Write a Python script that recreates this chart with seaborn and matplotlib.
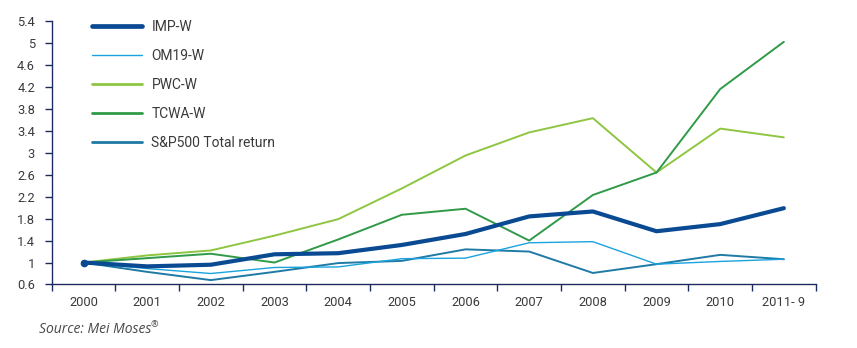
import matplotlib
matplotlib.use("Agg")
import matplotlib.pyplot as plt
import numpy as np
import pandas as pd
import seaborn as sns
from matplotlib.ticker import FixedLocator

years = ["2000", "2001", "2002", "2003", "2004", "2005", "2006",
         "2007", "2008", "2009", "2010", "2011- 9"]

imp_w = [1.00, 0.93, 0.96, 1.15, 1.17, 1.32, 1.52, 1.84, 1.93, 1.57, 1.70, 1.99]
om19_w = [1.00, 0.89, 0.80, 0.91, 0.92, 1.07, 1.08, 1.36, 1.38, 0.97, 1.02, 1.06]
pwc_w = [1.00, 1.13, 1.22, 1.49, 1.79, 2.35, 2.95, 3.37, 3.63, 2.64, 3.44, 3.28]
tcwa_w = [1.00, 1.08, 1.16, 1.00, 1.42, 1.87, 1.98, 1.40, 2.23, 2.64, 4.16, 5.02]
sp500_tr = [1.00, 0.83, 0.68, 0.83, 0.99, 1.03, 1.24, 1.20, 0.81, 0.97, 1.14, 1.06]

series_names = ["IMP-W", "OM19-W", "PWC-W", "TCWA-W", "S&P500 Total return"]
series_values = [imp_w, om19_w, pwc_w, tcwa_w, sp500_tr]
y_ticks = [0.6, 1, 1.4, 1.8, 2.2, 2.6, 3, 3.4, 3.8, 4.2, 4.6, 5, 5.4]

colors = {
    "IMP-W": "#0a4a92",
    "OM19-W": "#1ba3de",
    "PWC-W": "#8ec641",
    "TCWA-W": "#2f9a48",
    "S&P500 Total return": "#1f7aa6",
}
widths = {
    "IMP-W": 3.0,
    "OM19-W": 1.0,
    "PWC-W": 1.4,
    "TCWA-W": 1.4,
    "S&P500 Total return": 1.4,
}
legend_widths = {
    "IMP-W": 3.4,
    "OM19-W": 1.0,
    "PWC-W": 2.0,
    "TCWA-W": 2.0,
    "S&P500 Total return": 2.0,
}

frames = []
for name, vals in zip(series_names, series_values):
    frames.append(pd.DataFrame({"pos": np.arange(len(years)), "value": vals,
                                "series": name}))
df = pd.concat(frames, ignore_index=True)

sns.set_theme(style="white")
plt.rcParams["font.family"] = ["Roboto", "DejaVu Sans"]

fig = plt.figure(figsize=(8.57, 3.48), dpi=100)
ax = fig.add_axes([0.0603, 0.1825, 0.8915, 0.7572])

draw_order = ["PWC-W", "TCWA-W", "S&P500 Total return", "OM19-W", "IMP-W"]
for name in draw_order:
    sub = df[df["series"] == name]
    sns.lineplot(data=sub, x="pos", y="value", ax=ax, color=colors[name],
                 linewidth=widths[name], legend=False, sort=False)

# starting point marker
ax.plot([0], [imp_w[0]], marker="o", markersize=4.5, color=colors["IMP-W"],
        linestyle="none", zorder=6)

ax.set_xlim(-0.5, len(years) - 0.5)
ax.set_ylim(0.6, 5.4)
ax.set_xlabel("")
ax.set_ylabel("")

axis_color = "#1f2b5e"
text_color = "#3a3a3a"

ax.set_xticks(np.arange(len(years)))
ax.set_xticklabels(years)
ax.xaxis.set_minor_locator(FixedLocator(np.arange(-0.5, len(years), 1.0)))
ax.tick_params(axis="x", which="major", length=0, pad=8, labelsize=9.3,
               labelcolor=text_color)
ax.tick_params(axis="x", which="minor", length=5, width=1, color=axis_color,
               direction="out", bottom=True)

ax.set_yticks(y_ticks)
ax.set_yticklabels([f"{t:g}" for t in y_ticks])
ax.tick_params(axis="y", which="major", length=5, width=1, color=axis_color,
               direction="out", left=True, pad=7, labelsize=9.3,
               labelcolor=text_color)

for side in ["top", "right"]:
    ax.spines[side].set_visible(False)
for side in ["left", "bottom"]:
    ax.spines[side].set_color(axis_color)
    ax.spines[side].set_linewidth(1.0)

handles = [plt.Line2D([], [], color=colors[n], linewidth=legend_widths[n])
           for n in series_names]
leg = ax.legend(handles, series_names, loc="upper left",
                bbox_to_anchor=(0.037, 1.05), frameon=False, fontsize=10,
                handlelength=3.6, handletextpad=0.65, labelspacing=1.07)
for t in leg.get_texts():
    t.set_color(text_color)

src = fig.text(0.046, 0.044, "Source: Mei Moses", fontsize=10,
               style="italic", color="#4a4a4a", ha="left", va="baseline",
               family=["Open Sans", "DejaVu Sans"])
fig.canvas.draw()
bb = src.get_window_extent()
fig.text((bb.x1 - 1) / fig.bbox.width, 0.044 + 0.016, "\u00ae",
         fontsize=6.5, color="#4a4a4a", ha="left", va="baseline",
         family=["Open Sans", "DejaVu Sans"])

fig.savefig("out.png", dpi=100)
